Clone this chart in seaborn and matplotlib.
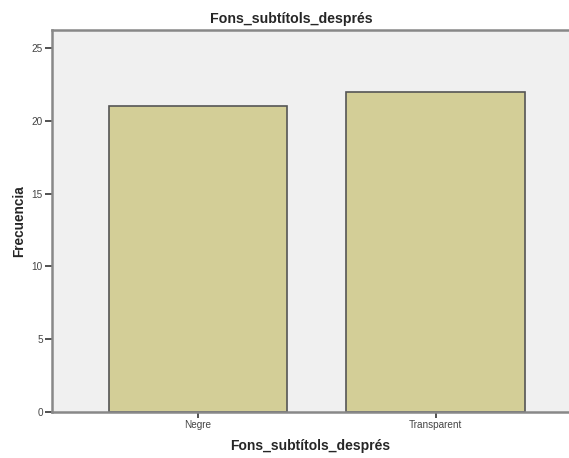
import matplotlib
matplotlib.use("Agg")
import matplotlib.pyplot as plt
import seaborn as sns
import pandas as pd

categories = ["Negre", "Transparent"]
counts = [21, 22]
y_ticks = [0, 5, 10, 15, 20, 25]

sns.set_style("ticks")
plt.rcParams["font.family"] = ["Liberation Sans", "DejaVu Sans"]

df = pd.DataFrame({"Fons_subtítols_després": categories, "Frecuencia": counts})

fig = plt.figure(figsize=(5.69, 4.58), dpi=100)
ax = fig.add_axes([52 / 569, 46 / 458, 517 / 569, 382 / 458])
ax.set_facecolor("#F0F0F0")

sns.barplot(data=df, x="Fons_subtítols_després", y="Frecuencia", ax=ax,
            color="#D3CE97", saturation=1, width=0.75,
            edgecolor="#555555", linewidth=1.2)

ax.set_xlim(-0.615, 1.562)
ax.set_ylim(0, 26.25)
ax.set_yticks(y_ticks)
ax.tick_params(axis="both", labelsize=7.2, colors="#333333", length=4, width=1.2,
               direction="out", pad=1.5)
ax.tick_params(axis="y", length=5)
for lab in ax.get_xticklabels() + ax.get_yticklabels():
    lab.set_color("#444444")

for side in ["left", "bottom", "top"]:
    ax.spines[side].set_color("#888888")
    ax.spines[side].set_linewidth(1.8)
ax.spines["right"].set_visible(False)

ax.set_xlabel("Fons_subtítols_després", fontsize=10, fontweight="bold", labelpad=7)
ax.set_ylabel("Frecuencia", fontsize=9.8, fontweight="bold", labelpad=4)
ax.set_title("Fons_subtítols_després", fontsize=10.2, fontweight="bold", pad=5,
             x=0.462)

fig.savefig("out.png", dpi=100)
